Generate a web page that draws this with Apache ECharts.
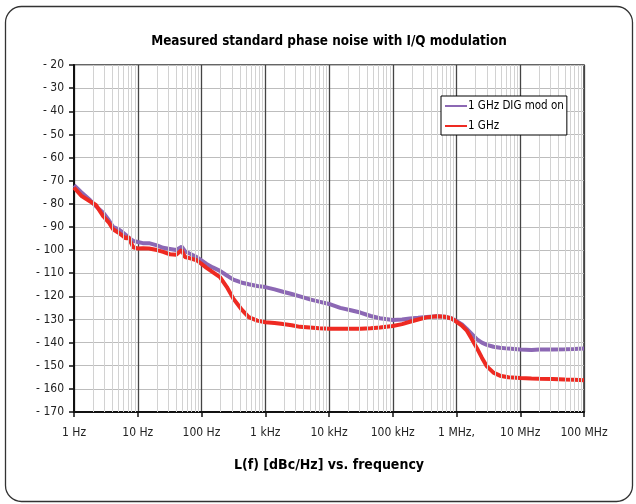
<!DOCTYPE html>
<html>
<head>
<meta charset="utf-8">
<script src="https://cdn.jsdelivr.net/npm/echarts@6/dist/echarts.min.js"></script>
<style>html,body{margin:0;padding:0;background:#fff}#c{width:636px;height:504px}</style>
</head>
<body>
<div id="c"></div>
<script>
var FONT = "'Liberation Sans Narrow','DejaVu Sans Condensed','Noto Sans',sans-serif";

var freqs = [1, 1.3, 1.8, 2.2, 2.9, 3.5, 4.1, 5, 5.6, 6.5, 7.1, 8.5, 10, 12, 15, 20, 25, 32, 40, 49, 55, 65, 84,
  100, 120, 150, 195, 250, 316, 420, 550, 750, 1000, 1400, 1900, 2600, 3500, 5000, 7000, 10000, 15000, 22000,
  31000, 45000, 63000, 100000, 140000, 186000, 250000, 340000, 490000, 650000, 840000, 1000000, 1200000,
  1440000, 1700000, 2100000, 2500000, 3000000, 3800000, 4800000, 6500000, 10000000, 15000000, 20000000,
  32000000, 50000000, 70000000, 100000000];

var digModOn = [-72, -75, -78.5, -81, -84, -87, -90, -91, -92, -93.5, -94.5, -96, -96.5, -97, -97, -98, -99, -99.5,
  -100, -98.5, -100.5, -101.5, -103, -104.5, -106, -107.5, -109, -111, -112.8, -114, -114.8, -115.5, -116, -117,
  -118, -119, -120, -121.3, -122.3, -123.3, -125, -126, -127, -128.5, -129.5, -130.2, -130, -129.6, -129.3,
  -128.9, -128.6, -128.8, -129.6, -130.7, -132, -134, -136, -138.6, -140, -141, -141.8, -142.2, -142.6, -143,
  -143.2, -143, -143, -142.9, -142.8, -142.6];

var ghz1 = [-73, -76.5, -79, -80.5, -85.5, -88, -91, -92.5, -93.5, -95, -94.3, -98.8, -99.3, -99.2, -99.3, -100,
  -100.8, -101.8, -102, -100, -103, -103.5, -104.4, -106, -107.7, -109.5, -111.7, -116, -121, -125.5, -129,
  -130.5, -131.2, -131.5, -132, -132.5, -133.2, -133.5, -133.8, -134, -134, -134, -134, -133.8, -133.5, -132.8,
  -132, -131, -130, -129.1, -128.6, -128.8, -129.6, -131, -132.5, -134.7, -138, -142.5, -146.5, -150.3, -153,
  -154.3, -155, -155.3, -155.5, -155.6, -155.7, -156, -156.1, -156.3];

var xTickLabels = ['1 Hz', '10 Hz', '100 Hz', '1 kHz', '10 kHz', '100 kHz', '1 MHz,', '10 MHz', '100 MHz'];
var seriesNames = ['1 GHz DIG mod on', '1 GHz'];

var minorTicks = [];
for (var d = 0; d < 8; d++) {
  for (var m = 2; m <= 9; m++) minorTicks.push(m * Math.pow(10, d));
}

function pairs(xs, ys) { return xs.map(function (x, i) { return [x, ys[i]]; }); }

var chart = echarts.init(document.getElementById('c'), null, {renderer: 'canvas'});
chart.setOption({
  animation: false,
  backgroundColor: '#fff',
  textStyle: {fontFamily: FONT},
  grid: {left: 74, right: 52, top: 65, bottom: 92, show: true, borderColor: '#333', borderWidth: 1.5, backgroundColor: 'transparent'},
  graphic: [
    {type: 'rect', shape: {x: 5.5, y: 6.5, width: 627, height: 495, r: 16}, style: {fill: 'none', stroke: '#333', lineWidth: 1.3}, silent: true, z: -1},
    {type: 'text', x: 329, y: 42, style: {text: 'Measured standard phase noise with I/Q modulation', fill: '#000', font: 'bold 13.4px ' + FONT, textAlign: 'center', textVerticalAlign: 'middle'}}
  ],
  legend: {
    data: seriesNames,
    orient: 'vertical', left: 441, top: 96, z: 10,
    backgroundColor: '#fff', borderColor: '#000', borderWidth: 1, borderRadius: 0,
    padding: [4, 3, 3, 4], itemGap: 8, itemWidth: 22, itemHeight: 2, icon: 'rect',
    textStyle: {fontFamily: FONT, fontSize: 11.5, color: '#000', padding: [0, 0, 0, -4]}
  },
  xAxis: {
    type: 'log', logBase: 10, min: 1, max: 100000000, splitNumber: 8, z: 2,
    name: 'L(f) [dBc/Hz] vs. frequency', nameLocation: 'middle', nameGap: 46,
    nameTextStyle: {fontFamily: FONT, fontSize: 14, fontWeight: 'bold', color: '#000'},
    axisLine: {show: true, onZero: false, lineStyle: {color: '#111', width: 2}},
    axisTick: {show: true, inside: false, length: 5, lineStyle: {color: '#111', width: 1.5}},
    axisLabel: {margin: 15, fontFamily: FONT, fontSize: 12, color: '#222',
      formatter: function (v) { var k = Math.round(Math.log10(v)); return xTickLabels[k] || ''; }},
    splitLine: {show: true, lineStyle: {color: '#444', width: 1.3}}
  },
  yAxis: {
    type: 'value', min: -170, max: -20, interval: 10, z: 2,
    axisLine: {show: true, onZero: false, lineStyle: {color: '#111', width: 2}},
    axisTick: {show: true, inside: false, length: 5, lineStyle: {color: '#111', width: 1.5}},
    axisLabel: {margin: 10, fontFamily: FONT, fontSize: 12, color: '#222',
      formatter: function (v) { return '- ' + Math.abs(v); }},
    splitLine: {show: true, lineStyle: {color: '#bdbdbd', width: 1}}
  },
  series: [
    {
      name: 'minor', type: 'line', data: [], z: 1, silent: true,
      markLine: {silent: true, symbol: ['none', 'none'], animation: false, label: {show: false},
        lineStyle: {color: '#d2d2d2', type: 'solid', width: 1},
        data: minorTicks.map(function (v) { return {xAxis: v}; })}
    },
    {name: seriesNames[0], type: 'line', data: pairs(freqs, digModOn), symbol: 'none', smooth: false,
      lineStyle: {color: '#8c68b4', width: 4}, itemStyle: {color: '#8c68b4'}, z: 3},
    {name: seriesNames[1], type: 'line', data: pairs(freqs, ghz1), symbol: 'none', smooth: false,
      lineStyle: {color: '#ee2a22', width: 4}, itemStyle: {color: '#ee2a22'}, z: 4}
  ]
});
</script>
</body>
</html>
